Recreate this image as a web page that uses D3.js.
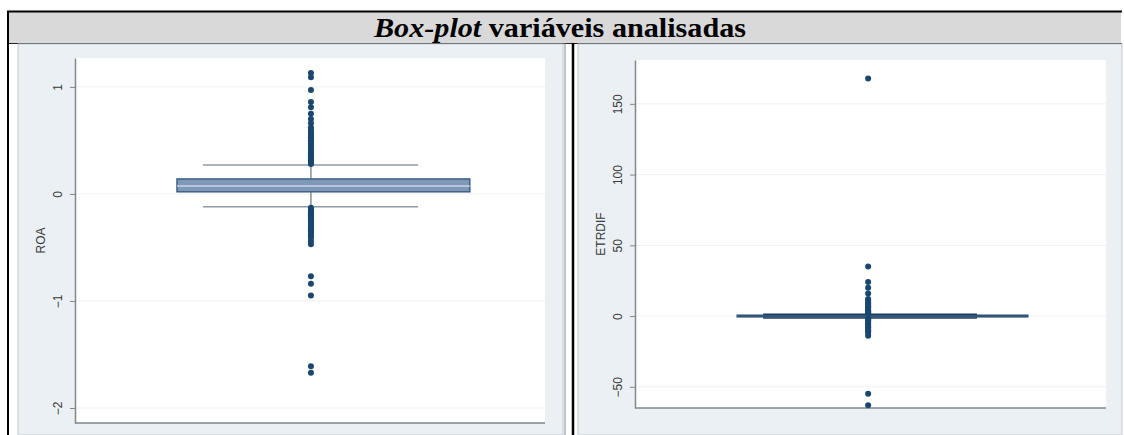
<!DOCTYPE html>
<html>
<head>
<meta charset="utf-8">
<script src="https://cdn.jsdelivr.net/npm/d3@7"></script>
<style>
  body { margin: 0; background: #fff; }
  svg { display: block; }
</style>
</head>
<body>
<div id="viz"></div>
<script>
const width = 1124;
const height = 435;

// ROA box: q1, median, q3, lower whisker, upper whisker
const roaBox = [0.02, 0.075, 0.14, -0.12, 0.27];
const roaOutliers = [1.13, 1.09, 0.97, 0.86, 0.81, 0.75, 0.70, 0.66, 0.62, 0.60, 0.58, 0.56, 0.55,
    0.53, 0.52, 0.50, 0.49, 0.47, 0.46, 0.44, 0.43, 0.41, 0.40, 0.38, 0.37, 0.36, 0.35, 0.34,
    0.33, 0.32, 0.31, 0.30, 0.29, 0.28,
    -0.13, -0.14, -0.15, -0.16, -0.17, -0.18, -0.19, -0.20, -0.21, -0.22, -0.23, -0.24, -0.25,
    -0.26, -0.27, -0.28, -0.29, -0.30, -0.31, -0.32, -0.33, -0.34, -0.35, -0.37, -0.39, -0.41,
    -0.44, -0.47, -0.77, -0.84, -0.95, -1.61, -1.67];
const roaTicks = [1, 0, -1, -2];

// ETRDIF box
const etrBox = [-0.6, 0.1, 0.6, -1.3, 1.3];
const etrOutliers = [168, 35, 24, 20, 16, 12, 11, 10, 9, 8, 7, 6, 5, 4, 3.5, 3, 2.5, 2,
    -2, -2.5, -3, -4, -5, -6, -7, -8, -9, -10, -11, -12, -14, -55, -63];
const etrTicks = [150, 100, 50, 0, -50];

const svg = d3.select('#viz')
    .append('svg')
        .attr('width', width)
        .attr('height', height);

// table title row
svg.append('rect')
    .attr('x', 8).attr('y', 12).attr('width', 1113).attr('height', 31)
    .attr('fill', '#d9d9d9');
svg.append('line').attr('x1', 7).attr('x2', 1122).attr('y1', 11.5).attr('y2', 11.5)
    .attr('stroke', '#000').attr('stroke-width', 2);
svg.append('line').attr('x1', 8).attr('x2', 1122).attr('y1', 43.5).attr('y2', 43.5)
    .attr('stroke', '#222').attr('stroke-width', 1);
const title = svg.append('text')
    .attr('x', 560).attr('y', 37)
    .attr('text-anchor', 'middle')
    .attr('textLength', 372)
    .attr('lengthAdjust', 'spacingAndGlyphs')
    .style('font-family', '"Liberation Serif", "Times New Roman", serif')
    .style('font-weight', 'bold')
    .style('font-size', '27px');
title.append('tspan').style('font-style', 'italic').text('Box-plot');
title.append('tspan').text(' variáveis analisadas');

function drawPanel(p, box, outliers, ticks, label) {
    const g = svg.append('g');
    // graph region background
    g.append('rect')
        .attr('x', p.bgX0).attr('y', 44).attr('width', p.bgX1 - p.bgX0).attr('height', height - 44)
        .attr('fill', '#eaf0f3').attr('stroke', '#c3ccd3').attr('stroke-width', 1);
    g.append('rect')
        .attr('x', p.left).attr('y', p.top).attr('width', p.right - p.left).attr('height', p.bottom - p.top)
        .attr('fill', '#fff');

    const y = d3.scaleLinear().domain(p.domain).range([p.bottom, p.top]);
    const x = d3.scaleLinear().domain([0, 1]).range([p.left, p.right]);

    // grid
    g.append('g').selectAll('line').data(ticks).join('line')
        .attr('x1', p.left).attr('x2', p.right)
        .attr('y1', d => y(d)).attr('y2', d => y(d))
        .attr('stroke', '#edf1f4').attr('stroke-width', 1);

    // y axis
    const yAxis = d3.axisLeft(y).tickValues(ticks).tickSize(5).tickSizeOuter(0).tickFormat(d3.format('d'));
    const ag = g.append('g')
        .attr('transform', `translate(${p.left},0)`)
        .call(yAxis);
    ag.select('.domain').attr('stroke', '#7f8790').attr('stroke-width', 1.5);
    ag.selectAll('.tick line').attr('stroke', '#7f8790');
    ag.selectAll('.tick text')
        .attr('x', null).attr('dy', null)
        .attr('transform', 'translate(-13,0) rotate(-90)')
        .attr('text-anchor', 'middle')
        .attr('fill', '#3a3a3a')
        .style('font-family', '"Liberation Sans", Arial, sans-serif')
        .style('font-size', '12px');
    // bottom axis line
    g.append('line')
        .attr('x1', p.left).attr('x2', p.right)
        .attr('y1', p.bottom).attr('y2', p.bottom)
        .attr('stroke', '#7f8790').attr('stroke-width', 1.5);

    g.append('text')
        .attr('transform', `translate(${p.left - 30},${(p.top + p.bottom) / 2}) rotate(-90)`)
        .attr('text-anchor', 'middle')
        .attr('fill', '#3a3a3a')
        .style('font-family', '"Liberation Sans", Arial, sans-serif')
        .style('font-size', '12px')
        .text(label);

    const [q1, med, q3, wLo, wHi] = box;
    // whisker stem
    g.append('line')
        .attr('x1', x(p.mid)).attr('x2', x(p.mid))
        .attr('y1', y(wHi)).attr('y2', y(wLo))
        .attr('stroke', '#4d5560').attr('stroke-width', 1);
    // box
    g.append('rect')
        .attr('x', x(p.box[0])).attr('width', x(p.box[1]) - x(p.box[0]))
        .attr('y', y(q3)).attr('height', Math.max(1, y(q1) - y(q3)))
        .attr('fill', '#7f98b8').attr('stroke', '#3e5f86').attr('stroke-width', 1.5);
    g.append('line')
        .attr('x1', x(p.box[0])).attr('x2', x(p.box[1]))
        .attr('y1', y(med)).attr('y2', y(med))
        .attr('stroke', p.medColor).attr('stroke-width', 1.5);
    // caps
    g.append('g').selectAll('line').data([wLo, wHi]).join('line')
        .attr('x1', x(p.cap[0])).attr('x2', x(p.cap[1]))
        .attr('y1', d => y(d)).attr('y2', d => y(d))
        .attr('stroke', p.capColor).attr('stroke-width', p.capWidth);

    // outliers
    g.append('g').selectAll('circle').data(outliers).join('circle')
        .attr('cx', x(p.mid))
        .attr('cy', d => y(d))
        .attr('r', 3)
        .attr('fill', '#1a476f');
}

drawPanel({bgX0: 18, bgX1: 563, left: 75, right: 545, top: 58, bottom: 423,
    domain: [-2.14, 1.27], mid: 0.502, box: [0.217, 0.840], cap: [0.272, 0.730],
    medColor: '#c9d5e3', capColor: '#8f9aa5', capWidth: 1.5},
    roaBox, roaOutliers, roaTicks, 'ROA');

drawPanel({bgX0: 578, bgX1: 1122, left: 635, right: 1106, top: 60, bottom: 408,
    domain: [-65, 181], mid: 0.495, box: [0.217, 0.834], cap: [0.272, 0.726],
    medColor: '#2e4f74', capColor: '#1f3f62', capWidth: 1.5},
    etrBox, etrOutliers, etrTicks, 'ETRDIF');

// table borders
svg.append('line').attr('x1', 8).attr('x2', 8).attr('y1', 11).attr('y2', height)
    .attr('stroke', '#000').attr('stroke-width', 2);
svg.append('line').attr('x1', 573).attr('x2', 573).attr('y1', 43).attr('y2', height)
    .attr('stroke', '#000').attr('stroke-width', 2.5);
svg.append('line').attr('x1', 565).attr('x2', 565).attr('y1', 43).attr('y2', height)
    .attr('stroke', '#888').attr('stroke-width', 1);
</script>
</body>
</html>
